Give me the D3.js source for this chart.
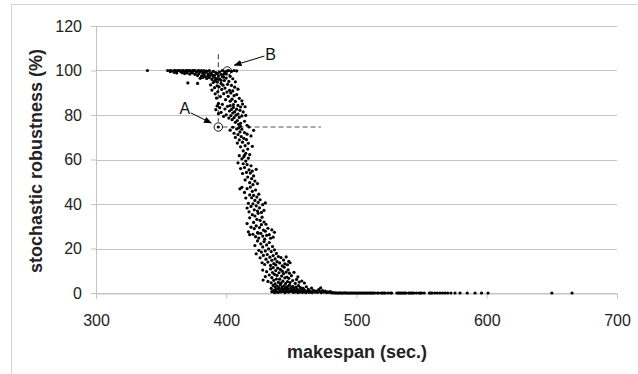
<!DOCTYPE html>
<html>
<head>
<meta charset="utf-8">
<script src="https://cdn.jsdelivr.net/npm/d3@7"></script>
<style>
  body { margin: 0; background: #fff; }
  text { font-family: "Liberation Sans", Arial, sans-serif; }
</style>
</head>
<body>
<div id="chart"></div>
<script>
// makespan (sec.) vs stochastic robustness (%)
const xTicks = [300, 400, 500, 600, 700]
const yTicks = [0, 20, 40, 60, 80, 100, 120]

const plateau = [
  [339.5, 100], [355, 100], [357, 100], [358, 99.8], [360, 100], [361, 100], [362, 99.7], [363, 100],
  [364, 100], [365, 99.6], [366, 100], [367, 100], [368, 99.5], [369, 100], [370, 100], [371, 99.8],
  [372, 100], [373, 99.4], [374, 100], [375, 99.9], [376, 100], [377, 99.3], [378, 99.8], [379, 100],
  [380, 99.6], [381, 99.9], [382, 98.8], [383, 100], [384, 99.2], [385, 99.7], [386, 98.5], [387, 100],
  [388, 99], [389, 98.2], [390, 99.6], [391, 97.8], [392, 99.1], [393, 98.6], [394, 97.5], [395, 99.3],
  [396, 98.2], [397, 100], [398, 97], [399, 99.5], [402, 100], [404, 99.6], [406, 100], [408, 99.8],
  [370, 98.9], [372, 98.4], [374, 98.9], [376, 98.3], [378, 97.7], [379, 98.6], [381, 97.5], [383, 98.1],
  [384, 97.2], [385, 96.4], [386, 97.6], [387, 96.8], [388, 97.9], [389, 96], [390, 97.1], [391, 95.2],
  [392, 96.5], [393, 94.8], [394, 96.2], [396, 95.6], [378, 94.2], [370.5, 94.4], [380, 96.5], [366, 99],
  [368, 98.6], [360, 99.2], [357, 99.5], [362, 98.9], [382, 96.9]
]

const upperSlope = [
  [388, 93.5], [389, 91.2], [390, 94.6], [391, 92.3], [391.5, 89.5], [392, 95.8], [392.5, 87.6], [393, 93.1],
  [393.5, 90.4], [394, 85.2], [394.5, 92.7], [395, 96.1], [395.5, 88.3], [396, 94.2], [396.5, 91.5], [397, 97.2],
  [397.5, 93.4], [398, 89.6], [398.5, 95.5], [399, 92.1], [399.5, 86.9], [400, 96.6], [400.5, 90.3], [401, 93.8],
  [401.5, 88.4], [402, 95.1], [402.5, 91.1], [403, 86.2], [403.5, 89.9], [404, 93.3], [404.5, 87.1], [405, 90.8],
  [405.5, 84.7], [406, 88.7], [406.5, 92.5], [407, 86.1], [408, 89.2], [409, 84.3], [410, 87.5], [411, 83.6],
  [412, 86.4], [398, 98.3], [400, 98.6], [403, 97.4], [405, 96.3], [407, 94.9], [409, 91.6],
  [392, 82.4], [393, 84.1], [394, 80.6], [395, 83.3], [396, 81.2], [397, 84.8], [398, 79.4], [399, 82.7],
  [400, 80.1], [401, 83.9], [402, 78.6], [402.5, 81.8], [403, 84.2], [403.5, 79.7], [404, 82.5], [404.5, 77.9],
  [405, 80.9], [405.5, 83.4], [406, 78.8], [406.5, 81.5], [407, 76.7], [407.5, 79.9], [408, 82.6], [408.5, 77.5],
  [409, 80.4], [409.5, 75.8], [410, 78.9], [410.5, 82.1], [411, 76.3], [412, 79.6], [413, 81.4], [414, 77.2],
  [415, 79.8], [416, 75.4], [412.5, 84.9], [414.5, 83.7], [393.9, 74.6], [400.8, 99.8]
]

const middleSlope = [
  [403, 73.2], [405, 74.5], [406, 71.8], [407, 69.9], [408, 73.7], [408.5, 67.4], [409, 71.2], [409.5, 74.2],
  [410, 68.8], [410.5, 72.4], [411, 65.7], [411.5, 70.3], [412, 73.6], [412.5, 67.8], [413, 63.9], [413.5, 69.5],
  [414, 72.1], [414.5, 66.2], [415, 62.8], [415.5, 68.9], [416, 71.4], [416.5, 64.7], [417, 67.3], [418, 62.2],
  [419, 70.6], [420, 65.9], [421, 73.1], [417.5, 74.6], [411, 74.9],
  [409, 58.5], [410, 61.7], [411, 55.9], [412, 60.3], [412.5, 53.7], [413, 58.1], [413.5, 61.2], [414, 56.4],
  [414.5, 50.8], [415, 59.3], [415.5, 54.2], [416, 57.7], [416.5, 52.1], [417, 60.6], [417.5, 55.3], [418, 49.6],
  [418.5, 53.9], [419, 57.2], [419.5, 51.4], [420, 54.8], [420.5, 48.7], [421, 52.6], [422, 50.3], [423, 55.6],
  [424, 49.2], [414, 61.9], [410.5, 46.8], [412, 47.5],
  [414, 45.2], [415, 42.7], [416, 46.9], [417, 40.3], [418, 44.1], [418.5, 47.6], [419, 38.9], [419.5, 42.8],
  [420, 45.7], [420.5, 40.1], [421, 43.9], [421.5, 37.4], [422, 41.6], [422.5, 46.3], [423, 39.2], [423.5, 43.1],
  [424, 36.8], [424.5, 40.7], [425, 44.4], [425.5, 38.3], [426, 41.9], [427, 36.2], [428, 39.7], [429, 37.1],
  [430, 40.5], [417.5, 36.5], [416, 38.2]
]

const lowerSlope = [
  [416, 31.2], [417, 27.5], [418, 33.8], [419, 29.6], [420, 35.2], [420.5, 26.4], [421, 31.7], [421.5, 28.9],
  [422, 34.6], [422.5, 25.3], [423, 30.2], [423.5, 33.1], [424, 27.1], [424.5, 35.8], [425, 24.7], [425.5, 29.4],
  [426, 32.6], [426.5, 26.8], [427, 30.7], [427.5, 34.1], [428, 25.6], [428.5, 28.3], [429, 31.9], [429.5, 24.2],
  [430, 27.8], [430.5, 30.9], [431, 25.9], [432, 29.1], [433, 26.2], [434, 24.6], [435, 28.4], [436, 25.1],
  [437, 27.3], [418, 26.2],
  [422, 21.3], [423, 17.6], [424, 23.4], [425, 19.2], [426, 15.8], [426.5, 22.1], [427, 18.4], [427.5, 13.6],
  [428, 20.7], [428.5, 16.9], [429, 23.1], [429.5, 12.8], [430, 18.9], [430.5, 15.2], [431, 21.6], [431.5, 17.3],
  [432, 13.9], [432.5, 19.8], [433, 22.7], [433.5, 16.1], [434, 12.4], [434.5, 18.6], [435, 14.7], [435.5, 20.9],
  [436, 16.8], [436.5, 13.2], [437, 19.4], [437.5, 15.3], [438, 12.6], [438.5, 17.8], [439, 14.1], [440, 16.4],
  [441, 13.5], [442, 15.9], [443, 12.2], [444, 14.8], [445, 13.1], [446, 16.2], [447, 12.7], [448, 14.2],
  [449, 13.6], [424.5, 26.9],
  [428, 10.3], [428.3, 5.8], [430, 7.4], [431, 9.6], [432, 5.2], [433, 8.1], [434, 10.8], [434.5, 4.6],
  [435, 6.9], [435.5, 9.2], [436, 11.4], [436.5, 5.7], [437, 8.4], [437.5, 4.1], [438, 10.1], [438.5, 6.3],
  [439, 7.9], [439.5, 11.2], [440, 4.8], [440.5, 9.1], [441, 6.2], [441.5, 10.6], [442, 4.4], [442.5, 7.6],
  [443, 9.8], [443.5, 5.3], [444, 8.7], [444.5, 11.6], [445, 6.8], [445.5, 4.2], [446, 9.4], [446.5, 7.2],
  [447, 5.1], [447.5, 10.4], [448, 6.6], [448.5, 8.9], [449, 4.7], [450, 7.8], [451, 5.6], [452, 9.3],
  [453, 4.3], [454, 6.1], [455, 7.3], [456, 4.9], [458, 5.4], [460, 4.5]
]

const baseline = [
  [434.5, 2.1], [435, 0.6], [436, 3.4], [436.5, 1.2], [437, 0.2], [437.5, 2.7], [438, 1.5], [438.5, 0.4],
  [439, 3.1], [439.5, 1.8], [440, 0.3], [440.5, 2.4], [441, 1.1], [441.5, 3.7], [442, 0.5], [442.5, 1.9],
  [443, 2.8], [443.5, 0.8], [444, 1.6], [444.5, 3.2], [445, 0.2], [445.5, 2.2], [446, 1.3], [446.5, 0.6],
  [447, 2.9], [447.5, 1.7], [448, 0.4], [448.5, 3.5], [449, 1], [449.5, 2.3], [450, 0.7], [450.5, 1.4],
  [451, 3], [451.5, 0.3], [452, 2], [452.5, 1.2], [453, 0.5], [453.5, 2.6], [454, 0.9], [454.5, 1.8],
  [455, 0.2], [455.5, 3.3], [456, 1.1], [456.5, 0.4], [457, 2.4], [457.5, 0.8], [458, 1.5], [458.5, 0.3],
  [459, 2.1], [459.5, 0.6], [460, 1.3], [461, 0.2], [461.5, 2.8], [462, 0.7], [463, 1.6], [463.5, 0.3],
  [464, 1], [465, 0.5], [465.5, 2.2], [466, 0.2], [467, 1.2], [468, 0.4], [469, 0.9], [470, 0.3],
  [471, 1.5], [472, 0.6], [472.5, 2.3], [473, 0.2], [474, 1.1], [475, 0.4], [476, 0.8], [477, 0.2],
  [478, 0.5], [479, 0.3], [480, 0.6]
]

const tail = [
  [481, 0], [482, 0.2], [483, 0], [484, 0.1], [485, 0], [486, 0], [487, 0.1], [488, 0], [489, 0], [490, 0],
  [491, 0.1], [492, 0], [493, 0], [494, 0], [495, 0], [496, 0], [497, 0], [498, 0], [499, 0], [500, 0],
  [501, 0], [502, 0], [503, 0], [504, 0], [505, 0], [506, 0], [507, 0], [508, 0], [509, 0], [510, 0],
  [511, 0], [512, 0], [513, 0], [514, 0], [516, 0], [517, 0], [519, 0], [520, 0], [521, 0], [522, 0],
  [524, 0], [526, 0], [527, 0], [531, 0], [532, 0], [533, 0], [534, 0], [535, 0], [536, 0], [537, 0],
  [538, 0], [540, 0], [541, 0], [542, 0], [543, 0], [544, 0], [546, 0], [548, 0], [549, 0], [550, 0],
  [552, 0], [556, 0], [557, 0], [558, 0], [560, 0], [562, 0], [564, 0], [566, 0], [568, 0], [570, 0],
  [572.5, 0], [575.6, 0], [579.5, 0], [585, 0], [591, 0], [596, 0], [601, 0], [650, 0], [665.5, 0]
]

// annotated solutions: circle, label, arrow start/end (data units)
const marked = [
  { name: 'A', point: [393.9, 74.6], label: [368.3, 83.1], from: [372.9, 80.9], to: [388.5, 76.4] },
  { name: 'B', point: [400.8, 99.8], label: [434, 107.4], from: [429.3, 106.5], to: [406.2, 102.4] }
]
const vGuide = [[393.9, 107.3], [393.9, 77]]
const hGuide = [[397.2, 74.6], [472.7, 74.6]]

const W = 638
const H = 374
const margin = { top: 26, right: 21, bottom: 81, left: 96 }

const svg = d3.select('#chart').append('svg').attr('width', W).attr('height', H)

// outer chart frame
svg.append('rect')
  .attr('x', 11.5).attr('y', 4.5)
  .attr('width', W).attr('height', H)
  .attr('fill', 'none').attr('stroke', '#d4d4d4')

const x = d3.scaleLinear().domain([300, 700]).range([margin.left, W - margin.right])
const y = d3.scaleLinear().domain([0, 120]).range([H - margin.bottom, margin.top])

// gridlines + y axis
const yAxis = svg.append('g')
  .attr('transform', `translate(${margin.left},0)`)
  .call(d3.axisLeft(y).tickValues(yTicks).tickSize(5).tickPadding(9))
yAxis.select('.domain').attr('stroke', '#c4c4c4')
yAxis.selectAll('.tick line').attr('stroke', '#c4c4c4')
yAxis.selectAll('.tick text').attr('font-size', 16).attr('fill', '#222')

svg.append('g')
  .selectAll('line')
  .data(yTicks)
  .join('line')
  .attr('x1', x(300)).attr('x2', x(700))
  .attr('y1', (d) => Math.round(y(d)) + 0.5).attr('y2', (d) => Math.round(y(d)) + 0.5)
  .attr('stroke', '#c4c4c4')

const xAxis = svg.append('g')
  .attr('transform', `translate(0,${Math.round(y(0)) + 0.5})`)
  .call(d3.axisBottom(x).tickValues(xTicks).tickSize(5).tickPadding(16))
xAxis.select('.domain').attr('stroke', '#c4c4c4')
xAxis.selectAll('.tick line').attr('stroke', '#c4c4c4')
xAxis.selectAll('.tick text').attr('font-size', 16).attr('fill', '#222')

// titles
svg.append('text')
  .attr('x', 357).attr('y', 358)
  .attr('text-anchor', 'middle')
  .attr('font-size', 18).attr('font-weight', 'bold').attr('fill', '#222')
  .text('makespan (sec.)')

svg.append('text')
  .attr('transform', 'translate(42,161) rotate(-90)')
  .attr('text-anchor', 'middle')
  .attr('font-size', 18).attr('font-weight', 'bold').attr('fill', '#222')
  .text('stochastic robustness (%)')

// guides
const guide = d3.line().x((d) => x(d[0])).y((d) => y(d[1]))
svg.append('path').attr('d', guide(vGuide))
  .attr('fill', 'none').attr('stroke', '#333').attr('stroke-dasharray', '5,3')
svg.append('path').attr('d', guide(hGuide))
  .attr('fill', 'none').attr('stroke', '#555').attr('stroke-dasharray', '5,3')

// points
const points = [].concat(plateau, upperSlope, middleSlope, lowerSlope, baseline, tail)
svg.append('g')
  .selectAll('circle')
  .data(points)
  .join('circle')
  .attr('cx', (d) => x(d[0]))
  .attr('cy', (d) => y(d[1]))
  .attr('r', 1.6)
  .attr('fill', '#000')

// annotations
svg.append('defs').append('marker')
  .attr('id', 'arrow')
  .attr('viewBox', '0 0 10 10')
  .attr('refX', 9).attr('refY', 5)
  .attr('markerWidth', 8).attr('markerHeight', 8)
  .attr('orient', 'auto')
  .append('path').attr('d', 'M0,1L10,5L0,9z').attr('fill', '#000')

const ann = svg.append('g')
ann.selectAll('circle')
  .data(marked)
  .join('circle')
  .attr('cx', (d) => x(d.point[0]))
  .attr('cy', (d) => y(d.point[1]))
  .attr('r', 4.2)
  .attr('fill', 'none').attr('stroke', '#000').attr('stroke-width', 0.9)

ann.selectAll('line')
  .data(marked)
  .join('line')
  .attr('x1', (d) => x(d.from[0])).attr('y1', (d) => y(d.from[1]))
  .attr('x2', (d) => x(d.to[0])).attr('y2', (d) => y(d.to[1]))
  .attr('stroke', '#000').attr('stroke-width', 1)
  .attr('marker-end', 'url(#arrow)')

ann.selectAll('text')
  .data(marked)
  .join('text')
  .attr('x', (d) => x(d.label[0]))
  .attr('y', (d) => y(d.label[1]))
  .attr('dy', '0.35em')
  .attr('text-anchor', 'middle')
  .attr('font-size', 16).attr('fill', '#111')
  .text((d) => d.name)
</script>
</body>
</html>
